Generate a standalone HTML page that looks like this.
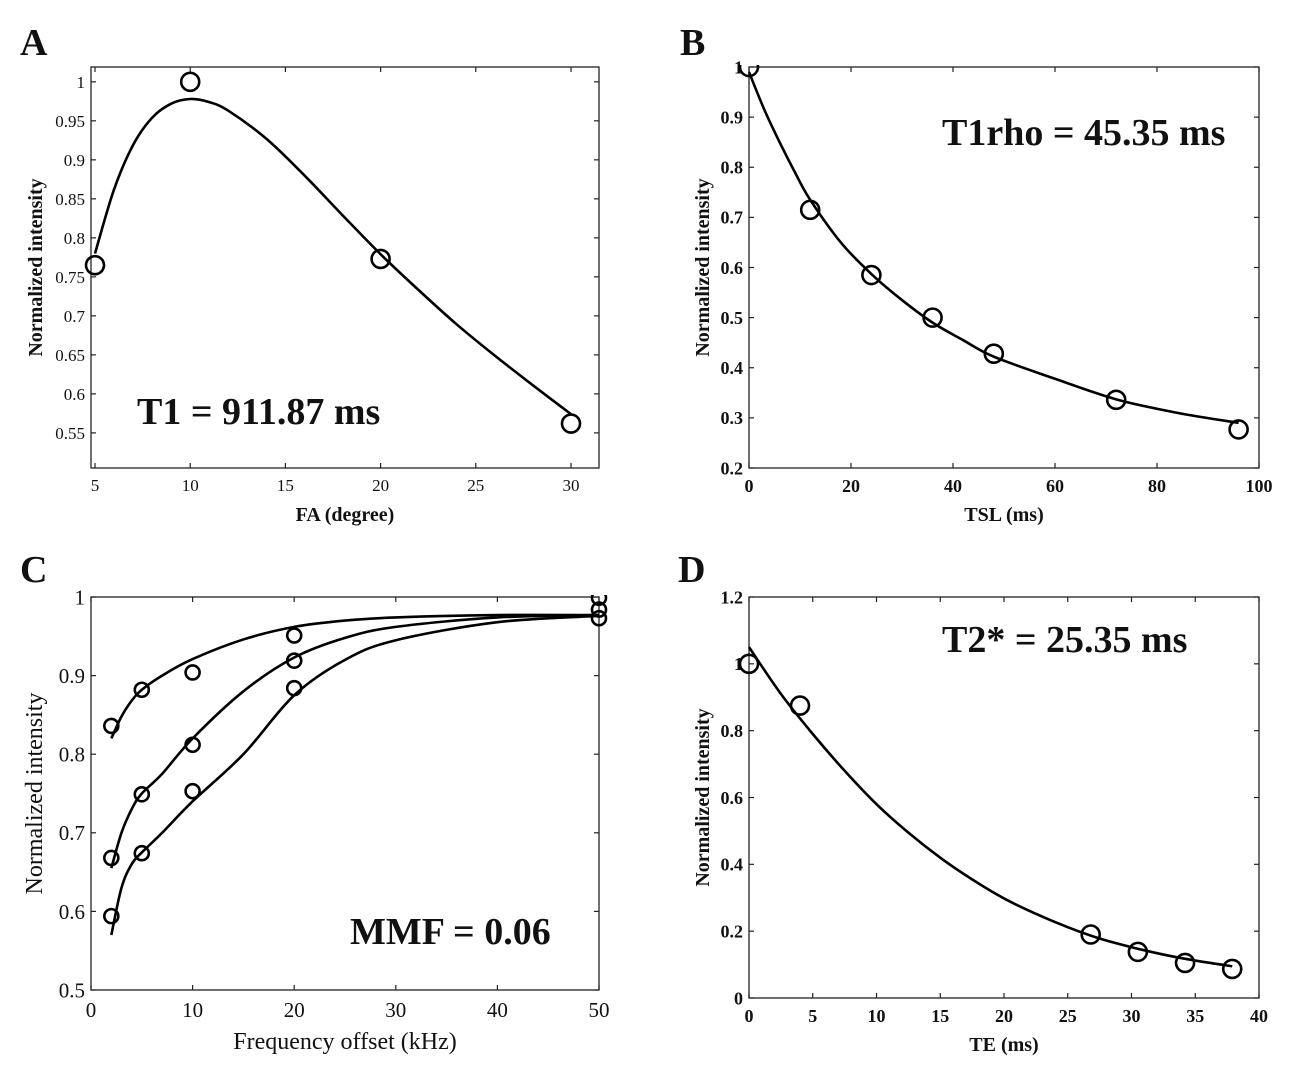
<!DOCTYPE html>
<html><head><meta charset="utf-8"><style>
html,body{margin:0;padding:0;background:#fff;}
svg text{font-family:"Liberation Serif",serif;fill:#111;}
</style></head><body>
<svg id="fig" width="1315" height="1085" viewBox="0 0 1315 1085" xmlns="http://www.w3.org/2000/svg">
<rect width="1315" height="1085" fill="#fff"/>
<text x="20" y="55" font-size="38" font-weight="bold">A</text>
<text x="680" y="55" font-size="38" font-weight="bold">B</text>
<text x="20" y="582" font-size="38" font-weight="bold">C</text>
<text x="678" y="582" font-size="38" font-weight="bold">D</text>
</svg>
<script>
// Panel A data
const aX = [5, 10, 20, 30];
const aY = [0.765, 1.0, 0.773, 0.562];
const aFitX = [5, 6, 7, 8, 9, 10, 11, 12, 14, 16, 18, 20, 22, 24, 26, 28, 30];
const aFitY = [0.78, 0.862, 0.919, 0.954, 0.972, 0.978, 0.974, 0.963, 0.927, 0.880, 0.829, 0.779, 0.733, 0.689, 0.649, 0.611, 0.574];
const aXTicks = [5, 10, 15, 20, 25, 30];
const aYTicks = [0.55, 0.6, 0.65, 0.7, 0.75, 0.8, 0.85, 0.9, 0.95, 1];
const aYLabels = ["0.55","0.6","0.65","0.7","0.75","0.8","0.85","0.9","0.95","1"];
// Panel B data
const bX = [0, 12, 24, 36, 48, 72, 96];
const bY = [1.0, 0.715, 0.585, 0.50, 0.428, 0.336, 0.277];
const bFitX = [0, 3, 6, 9, 12, 18, 24, 30, 36, 42, 48, 60, 72, 84, 96];
const bFitY = [0.99, 0.915, 0.85, 0.79, 0.735, 0.65, 0.587, 0.535, 0.49, 0.455, 0.422, 0.378, 0.337, 0.31, 0.29];
const bXTicks = [0, 20, 40, 60, 80, 100];
const bYTicks = [0.2, 0.3, 0.4, 0.5, 0.6, 0.7, 0.8, 0.9, 1.0];
const bYLabels = ["0.2","0.3","0.4","0.5","0.6","0.7","0.8","0.9","1"];
// Panel C data
const cX = [2, 5, 10, 20, 50];
const cY1 = [0.836, 0.882, 0.904, 0.951, 0.999];
const cY2 = [0.668, 0.749, 0.812, 0.919, 0.984];
const cY3 = [0.594, 0.674, 0.753, 0.884, 0.973];
const cFitX = [2, 3, 4, 5, 7, 10, 15, 20, 25, 30, 40, 50];
const cFit1 = [0.82, 0.848, 0.868, 0.882, 0.90, 0.921, 0.946, 0.962, 0.970, 0.974, 0.977, 0.977];
const cFit2 = [0.655, 0.70, 0.73, 0.75, 0.775, 0.82, 0.88, 0.923, 0.948, 0.962, 0.974, 0.977];
const cFit3 = [0.57, 0.63, 0.66, 0.675, 0.70, 0.74, 0.80, 0.875, 0.92, 0.945, 0.968, 0.976];
const cXTicks = [0, 10, 20, 30, 40, 50];
const cYTicks = [0.5, 0.6, 0.7, 0.8, 0.9, 1];
const cYLabels = ["0.5","0.6","0.7","0.8","0.9","1"];
// Panel D data
const dX = [0, 4, 26.8, 30.5, 34.2, 37.9];
const dY = [1.0, 0.875, 0.19, 0.138, 0.105, 0.087];
const dFitX = [0, 2.5, 5, 7.5, 10, 12.5, 15, 17.5, 20, 22.5, 25, 27.5, 30, 32.5, 35, 37.9];
const dFitY = [1.05, 0.91, 0.79, 0.68, 0.58, 0.495, 0.42, 0.355, 0.298, 0.252, 0.212, 0.178, 0.152, 0.13, 0.112, 0.095];
const dXTicks = [0, 5, 10, 15, 20, 25, 30, 35, 40];
const dYTicks = [0, 0.2, 0.4, 0.6, 0.8, 1, 1.2];
const dYLabels = ["0","0.2","0.4","0.6","0.8","1","1.2"];

const NS = "http://www.w3.org/2000/svg";
const svg = document.getElementById("fig");
function mk(tag, attrs, parent){const e=document.createElementNS(NS,tag);for(const k in attrs)e.setAttribute(k,attrs[k]);(parent||svg).appendChild(e);return e;}

function smoothPath(pts){
  let d="M"+pts[0][0].toFixed(2)+","+pts[0][1].toFixed(2);
  for(let i=0;i<pts.length-1;i++){
    const p0=pts[i-1]||pts[i],p1=pts[i],p2=pts[i+1],p3=pts[i+2]||p2;
    const c1=[p1[0]+(p2[0]-p0[0])/6,p1[1]+(p2[1]-p0[1])/6];
    const c2=[p2[0]-(p3[0]-p1[0])/6,p2[1]-(p3[1]-p1[1])/6];
    d+=" C"+c1[0].toFixed(2)+","+c1[1].toFixed(2)+" "+c2[0].toFixed(2)+","+c2[1].toFixed(2)+" "+p2[0].toFixed(2)+","+p2[1].toFixed(2);
  }
  return d;
}

function panel(cfg){
  const g=mk("g",{});
  
  
  const sx=v=>cfg.L+(v-cfg.x0)/(cfg.x1-cfg.x0)*(cfg.R-cfg.L);
  const sy=v=>cfg.B-(v-cfg.y0)/(cfg.y1-cfg.y0)*(cfg.B-cfg.T);
  const fw=cfg.bold?"bold":"normal";
  const afw=cfg.titleBold?"bold":"normal";
  const box=mk("rect",{x:cfg.L,y:cfg.T,width:cfg.R-cfg.L,height:cfg.B-cfg.T,fill:"none",stroke:"#222","stroke-width":1.3},g);
  
  
  cfg.xt.forEach(v=>{
    const x=sx(v);
    mk("line",{x1:x,y1:cfg.B,x2:x,y2:cfg.B-5,stroke:"#222","stroke-width":1.2},g);
    mk("line",{x1:x,y1:cfg.T,x2:x,y2:cfg.T+5,stroke:"#222","stroke-width":1.2},g);
    const t=mk("text",{x:x,y:cfg.B+cfg.tfs+6,"font-size":cfg.tfs,"font-weight":fw,"text-anchor":"middle"},g);
    t.textContent=String(v);
    
    
  });
  cfg.yt.forEach((v,i)=>{
    const y=sy(v);
    mk("line",{x1:cfg.L,y1:y,x2:cfg.L+5,y2:y,stroke:"#222","stroke-width":1.2},g);
    mk("line",{x1:cfg.R,y1:y,x2:cfg.R-5,y2:y,stroke:"#222","stroke-width":1.2},g);
    const t=mk("text",{x:cfg.L-6,y:y+cfg.tfs*0.35,"font-size":cfg.tfs,"font-weight":fw,"text-anchor":"end"},g);
    t.textContent=cfg.yl[i];
    
    
  });
  const xt=mk("text",{x:(cfg.L+cfg.R)/2,y:cfg.xty,"font-size":cfg.afs,"font-weight":afw,"text-anchor":"middle"},g);
  xt.textContent=cfg.xlabel;
  
  
  const yc=(cfg.T+cfg.B)/2;
  const yt=mk("text",{x:cfg.ytx,y:yc,"font-size":cfg.afs,"font-weight":afw,"text-anchor":"middle",transform:"rotate(-90 "+cfg.ytx+" "+yc+")"},g);
  yt.textContent="Normalized intensity";
  
  
  const clip=mk("clipPath",{id:cfg.name+"-clip"},g);
  mk("rect",{x:cfg.L-12,y:cfg.T-2,width:cfg.R-cfg.L+24,height:cfg.B-cfg.T+4},clip);
  cfg.fits.forEach((f,k)=>{
    const pts=f.x.map((v,i)=>[sx(v),sy(f.y[i])]);
    const p=mk("path",{d:smoothPath(pts),fill:"none",stroke:"#000","stroke-width":2.6},g);
    
    
  });
  cfg.series.forEach((s,k)=>{
    s.x.forEach((v,i)=>{
      const c=mk("circle",{cx:sx(v),cy:sy(s.y[i]),r:cfg.r,fill:"none",stroke:"#000","stroke-width":2.6,"clip-path":"url(#"+cfg.name+"-clip)"},g);
      
      
    });
  });
  const an=mk("text",{x:cfg.ax,y:cfg.ay,"font-size":38,"font-weight":"bold"},g);
  an.textContent=cfg.ann;
  
  
}

panel({name:"panel-a-t1",L:91,R:599,T:67,B:468,x0:4.79,x1:31.47,y0:0.505,y1:1.019,
  xt:aXTicks,yt:aYTicks,yl:aYLabels,bold:false,titleBold:true,tfs:17,afs:20,xlabel:"FA (degree)",xty:521,ytx:42,
  fits:[{x:aFitX,y:aFitY}],series:[{x:aX,y:aY}],r:9,ann:"T1 = 911.87 ms",ax:137,ay:424});
panel({name:"panel-b-t1rho",L:749,R:1259,T:67,B:468,x0:0,x1:100,y0:0.2,y1:1.0,
  xt:bXTicks,yt:bYTicks,yl:bYLabels,bold:true,titleBold:true,tfs:18,afs:20,xlabel:"TSL (ms)",xty:521,ytx:709,
  fits:[{x:bFitX,y:bFitY}],series:[{x:bX,y:bY}],r:9,ann:"T1rho = 45.35 ms",ax:942,ay:145});
panel({name:"panel-c-mmf",L:91,R:599,T:597,B:990,x0:0,x1:50,y0:0.5,y1:1.0,
  xt:cXTicks,yt:cYTicks,yl:cYLabels,bold:false,titleBold:false,tfs:21,afs:24,xlabel:"Frequency offset (kHz)",xty:1049,ytx:42,
  fits:[{x:cFitX,y:cFit1},{x:cFitX,y:cFit2},{x:cFitX,y:cFit3}],
  series:[{x:cX,y:cY1},{x:cX,y:cY2},{x:cX,y:cY3}],r:7,ann:"MMF = 0.06",ax:350,ay:944});
panel({name:"panel-d-t2star",L:749,R:1259,T:597,B:998,x0:0,x1:40,y0:0,y1:1.2,
  xt:dXTicks,yt:dYTicks,yl:dYLabels,bold:true,titleBold:true,tfs:18,afs:20,xlabel:"TE (ms)",xty:1051,ytx:709,
  fits:[{x:dFitX,y:dFitY}],series:[{x:dX,y:dY}],r:9,ann:"T2* = 25.35 ms",ax:942,ay:652});
</script>
</body></html>
